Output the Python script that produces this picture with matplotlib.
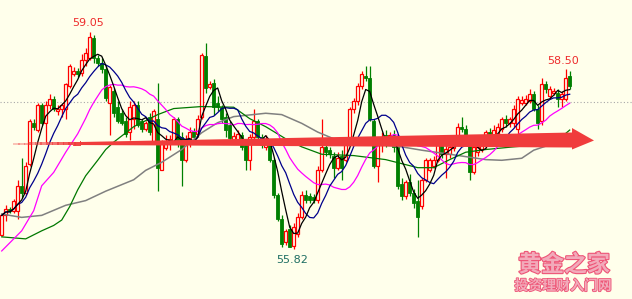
import numpy as np
import pandas as pd
import matplotlib
matplotlib.use("Agg")
import matplotlib.pyplot as plt
from matplotlib.patches import Polygon
import matplotlib.patheffects as pe

# daily candles
opens = [56.03, 56.32, 56.42, 56.38, 56.39, 56.75, 56.65, 57.08, 57.70, 57.59,
         57.96, 57.69, 57.96, 58.05, 57.87, 57.90, 57.91, 58.25, 58.43, 58.47,
         58.44, 58.63, 58.66, 58.96, 58.66, 58.59, 58.50, 57.99, 58.17, 57.94,
         57.84, 57.72, 57.56, 57.75, 57.97, 57.72, 57.61, 57.79, 57.41, 57.75,
         57.00, 57.32, 57.39, 57.41, 57.75, 57.49, 57.14, 57.44, 57.58, 57.53,
         57.79, 58.69, 58.23, 58.29, 57.99, 57.93, 57.78, 57.66, 57.44, 57.44,
         57.52, 57.38, 57.14, 57.49, 57.72, 57.49, 57.34, 57.38, 57.15, 56.62,
         56.27, 55.93, 56.12, 55.87, 56.05, 56.30, 56.62, 56.61, 56.59, 56.55,
         57.00, 57.34, 57.29, 57.21, 57.03, 57.21, 57.15, 57.46, 57.90, 58.02,
         58.25, 58.40, 58.37, 57.72, 57.06, 57.37, 57.52, 57.46, 57.52, 57.34,
         56.78, 56.61, 56.81, 56.65, 56.53, 56.46, 56.85, 57.00, 57.06, 57.15,
         57.37, 57.23, 57.23, 57.32, 57.46, 57.64, 57.61, 57.37, 56.96, 57.26,
         57.31, 57.37, 57.56, 57.47, 57.52, 57.61, 57.75, 57.69, 57.69, 57.61,
         58.00, 57.99, 58.02, 58.12, 57.91, 57.72, 58.28, 58.09, 58.14, 58.14,
         58.05, 58.05, 58.40]
highs = [56.35, 56.47, 56.45, 56.56, 56.84, 57.17, 57.11, 57.75, 57.76, 57.99,
         57.99, 58.02, 58.12, 58.09, 57.96, 57.99, 58.29, 58.58, 58.53, 58.52,
         58.72, 58.81, 59.05, 59.00, 58.70, 58.67, 58.55, 58.26, 58.22, 58.02,
         57.90, 57.79, 58.02, 58.02, 58.02, 57.76, 57.73, 57.84, 57.91, 58.29,
         57.44, 57.52, 57.52, 57.79, 57.79, 57.56, 57.52, 57.64, 57.62, 57.82,
         58.73, 58.88, 58.32, 58.35, 58.09, 57.97, 57.84, 57.72, 57.56, 57.59,
         57.56, 57.44, 57.53, 57.90, 57.76, 57.53, 57.52, 57.44, 57.18, 56.65,
         56.32, 56.12, 56.17, 56.20, 56.35, 56.68, 56.70, 56.65, 56.64, 57.06,
         57.76, 57.38, 57.34, 57.26, 57.26, 57.29, 57.49, 57.94, 58.06, 58.29,
         58.47, 58.55, 58.55, 57.75, 57.41, 57.56, 57.59, 57.56, 57.59, 57.37,
         56.88, 56.85, 56.93, 56.71, 56.84, 56.88, 57.18, 57.18, 57.21, 57.46,
         57.44, 57.37, 57.38, 57.41, 57.69, 57.79, 57.67, 57.41, 57.38, 57.41,
         57.41, 57.59, 57.62, 57.66, 57.69, 57.79, 57.81, 57.79, 57.97, 58.09,
         58.09, 58.11, 58.20, 58.17, 57.96, 58.37, 58.32, 58.25, 58.22, 58.20,
         58.17, 58.50, 58.47]
lows = [56.02, 56.24, 56.35, 56.35, 56.27, 56.58, 56.62, 57.05, 57.59, 57.56,
        57.66, 57.41, 57.90, 57.87, 57.82, 57.79, 57.75, 58.22, 58.40, 58.38,
        58.40, 58.55, 58.63, 58.59, 58.55, 58.44, 58.02, 57.52, 57.79, 57.69,
        57.66, 57.49, 57.44, 57.61, 57.64, 57.56, 57.58, 57.52, 57.38, 56.68,
        56.99, 57.29, 57.30, 57.38, 57.34, 56.76, 57.11, 57.34, 57.41, 57.49,
        57.75, 58.14, 58.20, 57.82, 57.87, 57.69, 57.49, 57.41, 57.38, 57.38,
        57.29, 56.99, 57.00, 57.44, 57.44, 57.32, 57.29, 57.11, 56.58, 56.23,
        55.85, 55.88, 55.85, 55.82, 56.00, 56.27, 56.50, 56.50, 56.50, 56.50,
        56.96, 57.21, 57.18, 56.88, 56.99, 56.84, 57.11, 57.41, 57.84, 57.97,
        58.20, 58.32, 57.72, 57.03, 56.81, 57.26, 57.34, 57.41, 57.26, 56.71,
        56.55, 56.56, 56.61, 56.43, 56.00, 56.41, 56.81, 56.96, 57.02, 57.11,
        57.18, 56.88, 57.18, 57.28, 57.41, 57.56, 57.37, 56.84, 56.93, 57.21,
        57.26, 57.32, 57.46, 57.41, 57.47, 57.56, 57.64, 57.64, 57.64, 57.53,
        57.97, 57.96, 57.99, 57.87, 57.61, 57.67, 58.14, 58.05, 58.11, 57.94,
        57.94, 58.02, 58.20]
closes = [56.32, 56.42, 56.38, 56.54, 56.76, 56.65, 57.06, 57.72, 57.64, 57.96,
          57.69, 57.97, 58.05, 57.91, 57.91, 57.97, 58.28, 58.55, 58.47, 58.43,
          58.64, 58.73, 58.97, 58.66, 58.59, 58.50, 58.06, 58.23, 57.84, 57.72,
          57.70, 57.53, 57.93, 57.97, 57.67, 57.61, 57.69, 57.56, 57.87, 57.03,
          57.38, 57.43, 57.46, 57.76, 57.41, 57.14, 57.46, 57.56, 57.49, 57.76,
          58.70, 58.22, 58.28, 57.94, 57.94, 57.75, 57.59, 57.47, 57.50, 57.53,
          57.34, 57.14, 57.49, 57.72, 57.49, 57.37, 57.46, 57.14, 56.62, 56.27,
          55.90, 56.08, 55.85, 56.15, 56.30, 56.62, 56.55, 56.55, 56.55, 57.00,
          57.34, 57.26, 57.23, 57.03, 57.18, 57.03, 57.46, 57.90, 58.02, 58.25,
          58.43, 58.37, 57.75, 57.06, 57.37, 57.49, 57.46, 57.52, 57.34, 56.76,
          56.61, 56.81, 56.65, 56.50, 56.30, 56.85, 57.14, 57.14, 57.15, 57.41,
          57.23, 57.31, 57.34, 57.37, 57.64, 57.61, 57.41, 56.96, 57.34, 57.34,
          57.37, 57.56, 57.50, 57.59, 57.64, 57.75, 57.69, 57.75, 57.91, 58.05,
          58.03, 58.05, 58.12, 57.90, 57.69, 58.28, 58.20, 58.20, 58.17, 58.05,
          58.12, 58.37, 58.25]

# long moving averages, read at a few candles (their windows start before the chart)
ma20_head_idx = [0, 5, 8, 10, 13, 16]
ma20_head_val = [55.79, 56.09, 56.39, 56.76, 56.96, 57.26]
ma_green_idx = [0, 6, 10, 13, 15, 17, 19, 21, 24, 26, 28, 33, 39, 43, 50, 58, 62, 66,
                71, 75, 80, 88, 96, 104, 108, 112, 116, 121, 128, 136, 140, 142]
ma_green_val = [56.00, 55.97, 56.09, 56.17, 56.25, 56.45, 56.70, 56.91, 57.14, 57.30,
                57.41, 57.64, 57.82, 57.91, 57.94, 57.93, 57.76, 57.64, 57.46, 57.34,
                57.23, 57.21, 57.15, 57.03, 57.03, 57.15, 57.26, 57.30, 57.34, 57.38,
                57.49, 57.59]
ma_gray_idx = [0, 5, 10, 16, 21, 26, 33, 36, 40, 45, 50, 54, 58, 66, 70, 75, 79,
               83, 87, 95, 100, 105, 112, 121, 125, 130, 133, 136, 142]
ma_gray_val = [56.34, 56.29, 56.32, 56.47, 56.54, 56.68, 56.85, 56.99, 57.11, 57.30,
               57.55, 57.70, 57.79, 57.84, 57.82, 57.69, 57.56, 57.46, 57.38, 57.37,
               57.34, 57.29, 57.23, 57.15, 57.14, 57.17, 57.29, 57.35, 57.44]
ref_level = 58.01

bg = "#FFFFEB"
up_col = "#FF0000"
dn_col = "#008000"

df = pd.DataFrame({"o": opens, "h": highs, "l": lows, "c": closes})
n = len(df)
idx = np.arange(n)
ma5 = df["c"].rolling(5, min_periods=1).mean()
ma10 = df["c"].rolling(10, min_periods=1).mean()
ma20 = df["c"].rolling(20).mean()

fig = plt.figure(figsize=(6.32, 2.99), dpi=100, facecolor=bg)
ax = fig.add_axes([0, 0, 1, 1], facecolor=bg)
ax.set_xlim(-0.425, 157.575)
ax.set_ylim(55.075, 59.526)
ax.axis("off")

ax.axhline(ref_level, color="#A8A8A8", lw=0.8, ls=(0, (1, 2)), zorder=1)

up = df["c"] >= df["o"]
w = 0.72
# wicks
ax.vlines(idx[~up], df["l"][~up], df["h"][~up], color=dn_col, lw=0.9, zorder=2)
ax.vlines(idx[up], df["l"][up], df["h"][up], color=up_col, lw=0.9, zorder=2)
# bodies
ax.bar(idx[~up], (df["o"] - df["c"])[~up], bottom=df["c"][~up], width=w,
       color=dn_col, edgecolor=dn_col, lw=0.6, zorder=3)
ax.bar(idx[up], (df["c"] - df["o"])[up].clip(lower=0.004), bottom=df["o"][up], width=w,
       color=bg, edgecolor=up_col, lw=0.9, zorder=3)

# moving averages
ax.plot(ma_gray_idx, ma_gray_val, color="#808080", lw=1.1, zorder=4)
ax.plot(ma_green_idx, ma_green_val, color="#007800", lw=0.9, zorder=4)
ax.plot(ma20_head_idx + list(idx[19:]), ma20_head_val + list(ma20[19:]),
        color="#FF00FF", lw=0.9, zorder=4)
ax.plot(idx, ma10, color="#00008B", lw=0.9, zorder=4)
ax.plot(idx, ma5, color="#000000", lw=0.9, zorder=4)

# extreme labels
i_hi = int(df["h"].idxmax())
i_lo = int(df["l"].idxmin())
ax.annotate(f"{df['h'][i_hi]:.2f}", (i_hi, df["h"][i_hi]), xytext=(-1, 3),
            textcoords="offset points", ha="center", va="bottom",
            fontsize=8, color="#EE2C2C", zorder=6)
ax.annotate(f"{df['l'][i_lo]:.2f}", (i_lo, df["l"][i_lo]), xytext=(-1, -4),
            textcoords="offset points", ha="center", va="top",
            fontsize=8, color="#1E6E62", zorder=6)
ax.annotate(f"{df['h'][n - 2]:.2f}", (n - 2, df["h"][n - 2]), xytext=(-2, 2),
            textcoords="offset points", ha="center", va="bottom",
            fontsize=8, color="#EE2C2C", zorder=6)


def px(x, y):
    return (x / 632.0, 1 - y / 299.0)


def shaft_top(x):
    return 143.3 - 10.8 * (x - 13) / 559.0


def shaft_bot(x):
    return 144.7 + 2.8 * (x - 13) / 559.0


# big red trend arrow (drawn annotation)
arrow_col = "#F03C3C"
x_fade, x_end = 80, 572
ax.add_patch(Polygon([px(x_end, 128), px(594, 140.5), px(x_end, 149.5)], closed=True,
                     transform=ax.transAxes, facecolor=arrow_col, edgecolor="none", zorder=5))
ax.add_patch(Polygon([px(x_fade, shaft_top(x_fade)), px(x_end + 1, shaft_top(x_end)),
                      px(x_end + 1, shaft_bot(x_end)), px(x_fade, shaft_bot(x_fade))],
                     closed=True, transform=ax.transAxes, facecolor=arrow_col,
                     edgecolor="none", zorder=5))
steps = 12
for k in range(steps):
    xa = 13 + (x_fade - 13) * k / steps
    xb = 13 + (x_fade - 13) * (k + 1) / steps + 0.6
    ax.add_patch(Polygon([px(xa, shaft_top(xa)), px(xb, shaft_top(xb)),
                          px(xb, shaft_bot(xb)), px(xa, shaft_bot(xa))],
                         closed=True, transform=ax.transAxes, facecolor=arrow_col,
                         edgecolor="none", alpha=0.3 + 0.7 * k / steps,
                         antialiased=False, zorder=5))

# watermark
fx, fy = px(564, 265)
ax.text(fx, fy, "黄金之家", transform=ax.transAxes, ha="center", va="center",
        fontsize=16.5, fontweight="bold", color="#F2AABA",
        family=["Noto Sans CJK SC", "DejaVu Sans"], zorder=7,
        path_effects=[pe.withStroke(linewidth=1.6, foreground="#EE5577")])
fx, fy = px(563, 286)
ax.text(fx, fy, "投资理财入门网", transform=ax.transAxes, ha="center", va="center",
        fontsize=10, fontweight="bold", color="#F2AABA",
        family=["Noto Sans CJK SC", "DejaVu Sans"], zorder=7,
        path_effects=[pe.withStroke(linewidth=1.2, foreground="#EE5577")])

fig.savefig("out.png", dpi=100, facecolor=bg)
